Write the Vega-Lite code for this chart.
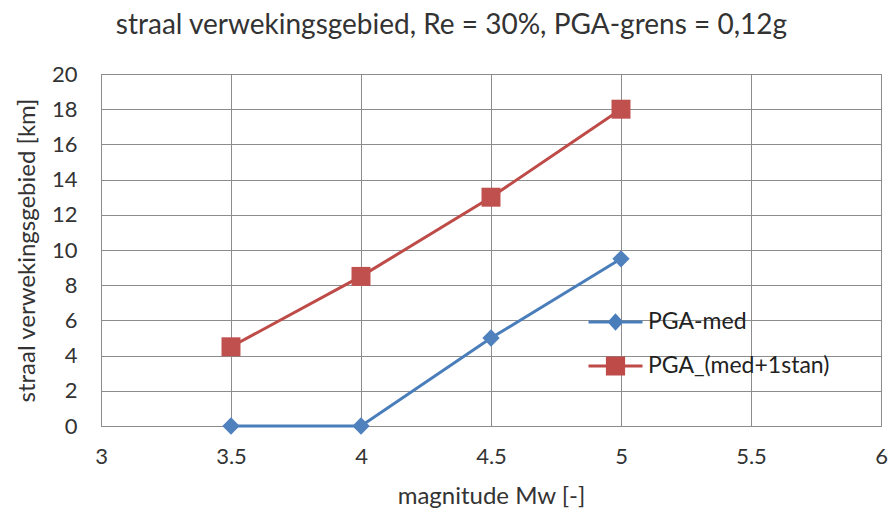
{
  "$schema": "https://vega.github.io/schema/vega-lite/v6.json",
  "width": 780,
  "height": 352,
  "autosize": "none",
  "padding": {"left": 101, "top": 74, "right": 9, "bottom": 87},
  "background": "white",
  "title": {
    "text": "straal verwekingsgebied, Re = 30%, PGA-grens = 0,12g",
    "font": "Lato",
    "fontSize": 28,
    "fontWeight": "normal",
    "color": "#333333",
    "anchor": "middle",
    "frame": "bounds",
    "offset": 23
  },
  "config": {
    "view": {"stroke": "#8c8c8c", "strokeWidth": 1},
    "axis": {
      "labelFont": "Lato",
      "titleFont": "Lato",
      "labelFontSize": 22,
      "titleFontSize": 24,
      "titleFontWeight": "normal",
      "labelColor": "#333333",
      "titleColor": "#333333",
      "gridColor": "#8c8c8c",
      "gridOpacity": 1,
      "domainColor": "#8c8c8c",
      "ticks": false
    }
  },
  "data": {
    "values": [
      {"Mw": 3.5, "r": 0, "serie": "PGA-med"},
      {"Mw": 4.0, "r": 0, "serie": "PGA-med"},
      {"Mw": 4.5, "r": 5, "serie": "PGA-med"},
      {"Mw": 5.0, "r": 9.5, "serie": "PGA-med"},
      {"Mw": 3.5, "r": 4.5, "serie": "PGA_(med+1stan)"},
      {"Mw": 4.0, "r": 8.5, "serie": "PGA_(med+1stan)"},
      {"Mw": 4.5, "r": 13, "serie": "PGA_(med+1stan)"},
      {"Mw": 5.0, "r": 18, "serie": "PGA_(med+1stan)"}
    ]
  },
  "encoding": {
    "x": {
      "field": "Mw",
      "type": "quantitative",
      "scale": {"domain": [3, 6], "nice": false, "zero": false},
      "axis": {"values": [3, 3.5, 4, 4.5, 5, 5.5, 6], "format": "~g", "labelPadding": 20, "title": "magnitude Mw [-]", "titlePadding": 17, "labelFlush": false}
    },
    "y": {
      "field": "r",
      "type": "quantitative",
      "scale": {"domain": [0, 20], "nice": false},
      "axis": {"values": [0, 2, 4, 6, 8, 10, 12, 14, 16, 18, 20], "labelPadding": 24, "title": "straal verwekingsgebied [km]", "titlePadding": 12}
    }
  },
  "layer": [
    {
      "mark": {"type": "line", "strokeWidth": 3},
      "encoding": {
        "color": {
          "field": "serie",
          "type": "nominal",
          "scale": {"domain": ["PGA-med", "PGA_(med+1stan)"], "range": ["#4a7ebb", "#be4b48"]},
          "legend": {
            "title": null,
            "orient": "none",
            "legendX": 486,
            "legendY": 233,
            "direction": "vertical",
            "labelFont": "Lato",
            "labelFontSize": 23,
            "labelLimit": 400,
            "labelColor": "#222222",
            "labelOffset": 4,
            "clipHeight": 30,
            "rowPadding": 14,
            "symbolSize": 2916,
            "symbolStrokeWidth": 3,
            "symbolType": "M-1,0L1,0",
            "encode": {
              "symbols": {
                "update": {
                  "shape": {"signal": "datum.value == 'PGA-med' ? 'M-1,0L1,0M0,-0.24L0.22,0L0,0.24L-0.22,0Z' : 'M-1,0L1,0M-0.3,-0.3L0.3,-0.3L0.3,0.3L-0.3,0.3Z'"},
                  "fill": {"signal": "datum.value == 'PGA-med' ? '#4a7ebb' : '#be4b48'"}
                }
              }
            }
          }
        }
      }
    },
    {
      "transform": [{"filter": "datum.serie == 'PGA-med'"}],
      "mark": {"type": "point", "filled": true, "opacity": 1, "size": 300, "shape": "diamond", "color": "#4f81bd"}
    },
    {
      "transform": [{"filter": "datum.serie == 'PGA_(med+1stan)'"}],
      "mark": {"type": "point", "filled": true, "opacity": 1, "size": 360, "shape": "square", "color": "#c0504d"}
    }
  ]
}
